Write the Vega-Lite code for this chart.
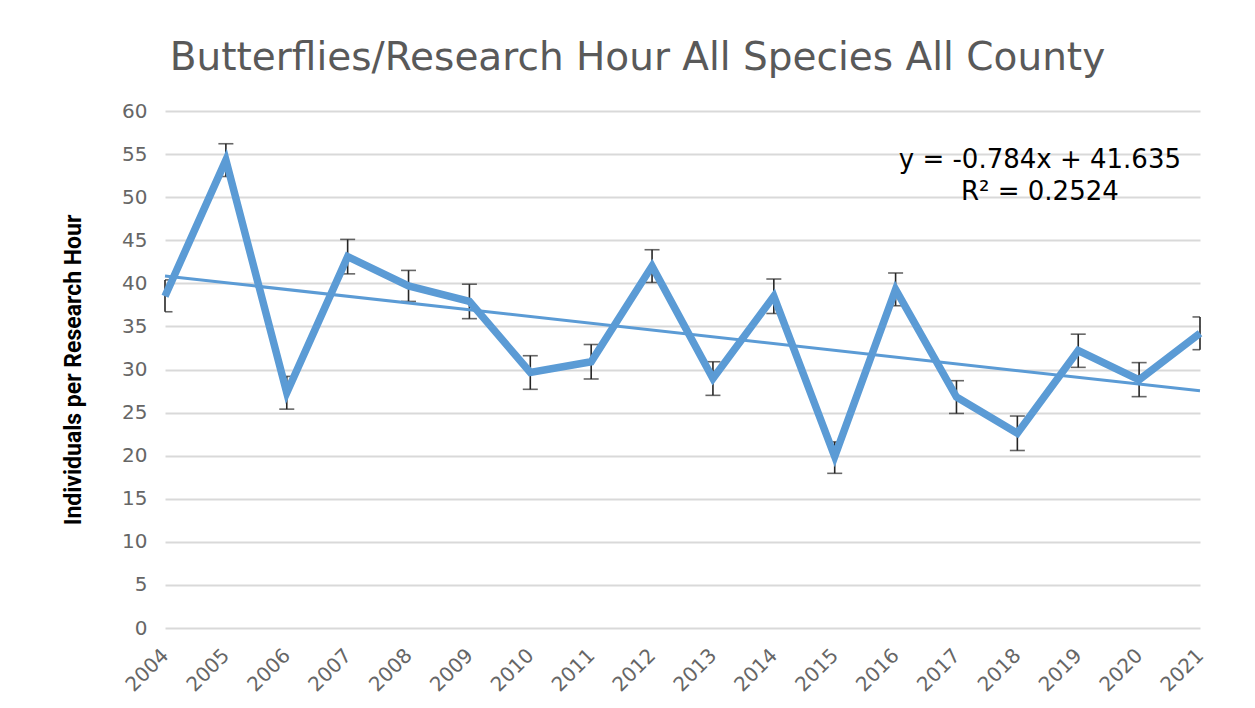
{
  "$schema": "https://vega.github.io/schema/vega-lite/v6.json",
  "width": 1035,
  "height": 517,
  "autosize": {"type": "none"},
  "padding": {"left": 165, "top": 111, "right": 55, "bottom": 80},
  "background": "white",
  "title": {
    "text": "Butterflies/Research Hour All Species All County",
    "font": "DejaVu Sans",
    "fontSize": 39,
    "fontWeight": "normal",
    "color": "#595959",
    "anchor": "middle",
    "dx": -45,
    "offset": 23
  },
  "datasets": {
    "obs": [
      {"year": 2004, "value": 38.5, "lo": 36.7, "hi": 40.4},
      {"year": 2005, "value": 54.3, "lo": 52.4, "hi": 56.2},
      {"year": 2006, "value": 27.3, "lo": 25.4, "hi": 29.2},
      {"year": 2007, "value": 43.1, "lo": 41.1, "hi": 45.1},
      {"year": 2008, "value": 39.7, "lo": 37.9, "hi": 41.5},
      {"year": 2009, "value": 37.9, "lo": 35.9, "hi": 39.9},
      {"year": 2010, "value": 29.65, "lo": 27.7, "hi": 31.6},
      {"year": 2011, "value": 30.9, "lo": 28.9, "hi": 32.9},
      {"year": 2012, "value": 42.0, "lo": 40.1, "hi": 43.9},
      {"year": 2013, "value": 28.95, "lo": 27.0, "hi": 30.9},
      {"year": 2014, "value": 38.5, "lo": 36.5, "hi": 40.5},
      {"year": 2015, "value": 19.9, "lo": 17.95, "hi": 21.6},
      {"year": 2016, "value": 39.3, "lo": 37.4, "hi": 41.2},
      {"year": 2017, "value": 26.8, "lo": 24.9, "hi": 28.7},
      {"year": 2018, "value": 22.6, "lo": 20.6, "hi": 24.6},
      {"year": 2019, "value": 32.2, "lo": 30.25, "hi": 34.1},
      {"year": 2020, "value": 28.8, "lo": 26.85, "hi": 30.8},
      {"year": 2021, "value": 34.2, "lo": 32.3, "hi": 36.1}
    ],
    "trend": [
      {"year": 2004, "value": 40.851},
      {"year": 2021, "value": 27.523}
    ],
    "labels": [
      {"year": 2018.37, "value": 54.3, "text": "y = -0.784x + 41.635"},
      {"year": 2018.37, "value": 50.6, "text": "R² = 0.2524"}
    ]
  },
  "config": {
    "view": {"stroke": null},
    "axis": {"labelFont": "DejaVu Sans", "titleFont": "Roboto"}
  },
  "layer": [
    {
      "data": {"name": "obs"},
      "mark": {"type": "rule", "color": "#262626", "strokeWidth": 1.6},
      "encoding": {
        "x": {
          "field": "year", "type": "quantitative",
          "scale": {"domain": [2004, 2021], "nice": false, "zero": false},
          "axis": {
            "title": null, "values": [2004,2005,2006,2007,2008,2009,2010,2011,2012,2013,2014,2015,2016,2017,2018,2019,2020,2021],
            "format": "d", "labelAngle": -45, "labelAlign": "right", "labelBaseline": "middle",
            "labelFontSize": 20, "labelColor": "#666666", "labelPadding": 24,
            "ticks": false, "domain": false, "grid": false, "labelOverlap": false, "labelFlush": false
          }
        },
        "y": {
          "field": "lo", "type": "quantitative",
          "scale": {"domain": [0, 60], "nice": false},
          "axis": {
            "title": "Individuals per Research Hour",
            "values": [0,5,10,15,20,25,30,35,40,45,50,55,60],
            "titleFontSize": 23, "titleFontWeight": "bold", "titleColor": "#000000",
            "titlePadding": 36,
            "labelFontSize": 20, "labelColor": "#666666", "labelPadding": 18,
            "ticks": false, "domain": false,
            "grid": true, "gridColor": "#d9d9d9", "gridWidth": 2
          }
        },
        "y2": {"field": "hi"}
      }
    },
    {
      "data": {"name": "obs"},
      "mark": {"type": "tick", "orient": "horizontal", "color": "#262626", "thickness": 1.6, "size": 15, "clip": true},
      "encoding": {
        "x": {"field": "year", "type": "quantitative"},
        "y": {"field": "lo", "type": "quantitative"}
      }
    },
    {
      "data": {"name": "obs"},
      "mark": {"type": "tick", "orient": "horizontal", "color": "#262626", "thickness": 1.6, "size": 15, "clip": true},
      "encoding": {
        "x": {"field": "year", "type": "quantitative"},
        "y": {"field": "hi", "type": "quantitative"}
      }
    },
    {
      "data": {"name": "trend"},
      "mark": {"type": "line", "color": "#5b9bd5", "strokeWidth": 3},
      "encoding": {
        "x": {"field": "year", "type": "quantitative"},
        "y": {"field": "value", "type": "quantitative"}
      }
    },
    {
      "data": {"name": "obs"},
      "mark": {"type": "line", "color": "#5b9bd5", "strokeWidth": 7.5, "strokeJoin": "miter", "strokeCap": "butt"},
      "encoding": {
        "x": {"field": "year", "type": "quantitative"},
        "y": {"field": "value", "type": "quantitative"}
      }
    },
    {
      "data": {"name": "labels"},
      "mark": {"type": "text", "font": "DejaVu Sans", "fontSize": 26, "color": "#000000", "align": "center", "baseline": "middle"},
      "encoding": {
        "x": {"field": "year", "type": "quantitative"},
        "y": {"field": "value", "type": "quantitative"},
        "text": {"field": "text"}
      }
    }
  ]
}
